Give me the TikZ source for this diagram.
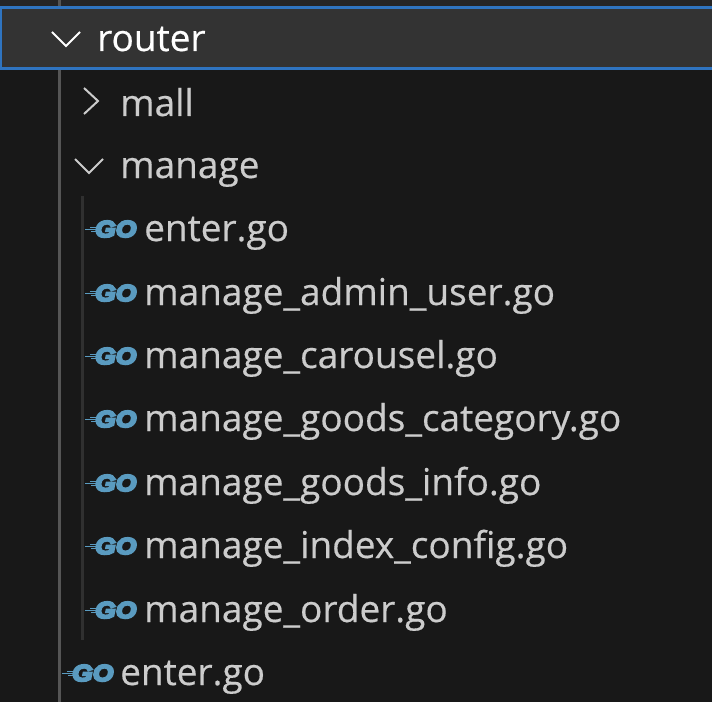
\documentclass[tikz,border=0pt]{standalone}
\usepackage{fontspec}
\setmainfont{Open Sans}[FakeBold=0.4]
\newfontfamily\gofont{Liberation Sans}[BoldItalicFeatures={FakeBold=9,FakeStretch=1.15}]
\definecolor{panelbg}{HTML}{181818}
\definecolor{topbg}{HTML}{252526}
\definecolor{rowbg}{HTML}{333333}
\definecolor{rowblue}{HTML}{2F74C0}
\definecolor{guidea}{HTML}{555555}
\definecolor{guideb}{HTML}{303030}
\definecolor{gotxt}{HTML}{CCCCCC}
\definecolor{goblue}{HTML}{5A9BC0}
\tikzset{
  filetxt/.style={anchor=base west, inner sep=0pt, text=gotxt, font=\fontsize{37}{37}\selectfont},
  chevron/.style={line width=1.5pt, color=gotxt},
  golines/.style={line width=0.9pt, color=goblue},
  pics/goicon/.style={code={
    \node[anchor=base west, inner sep=0pt, text=goblue, font=\fontsize{23}{23}\gofont\bfseries\itshape] at (0,0) {GO};
    \draw[golines] (-7,-13) -- (2,-13);
    \draw[golines] (-13,-10) -- (2,-10);
    \draw[golines] (-5,-7) -- (2,-7);
  }}
}
\begin{document}
\begin{tikzpicture}[x=0.75pt,y=-0.75pt,every node/.append style={scale=0.75}]
\useasboundingbox (0,0) rectangle (712,702);
\fill[panelbg] (0,0) rectangle (712,702);
\fill[topbg] (0,0) rectangle (712,7);
%% guides
\draw[guidea, line width=2.25pt] (59.5,0) -- (59.5,702);
\draw[guideb, line width=2.25pt] (82,196) -- (82,640);
%% selected row
\draw[rowblue, fill=rowbg, line width=2pt] (1,7.5) rectangle (714,68.5);
\node[filetxt, text=white] (router) at (97,51) {router};
\draw[chevron, color=white] (52,32) -- (66,46) -- (80,32);
%% folders
\node[filetxt] (mall) at (120,116) {mall};
\draw[chevron] (84,88) -- (98,101) -- (84,114);
\node[filetxt] (manage) at (120,178) {manage};
\draw[chevron] (75,159) -- (89,173) -- (103,159);
%% files
\foreach \y/\name in {241/enter.go, 305/manage\_admin\_user.go, 368/manage\_carousel.go,
  431/manage\_goods\_category.go, 495/manage\_goods\_info.go, 558/manage\_index\_config.go, 622/manage\_order.go}{
  \node[filetxt] (f\y) at (144,\y) {\name};
  \pic at (95,\y-4) {goicon};
}
\node[filetxt] (rootenter) at (120,685) {enter.go};
\pic at (72,681) {goicon};
\end{tikzpicture}
\end{document}
